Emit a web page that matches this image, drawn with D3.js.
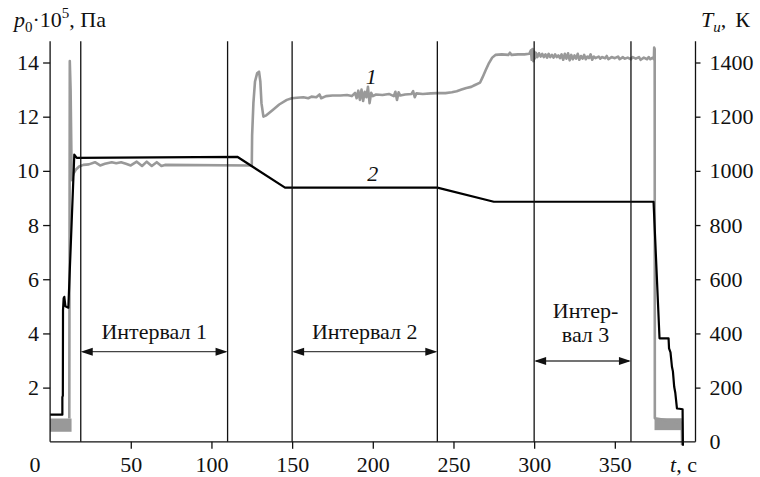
<!DOCTYPE html>
<html>
<head>
<meta charset="utf-8">
<script src="https://cdn.jsdelivr.net/npm/d3@7/dist/d3.min.js"></script>
<style>
  body { margin: 0; background: #fff; }
  svg { display: block; }
  svg text { font-family: "Liberation Serif", "Times New Roman", Times, "DejaVu Serif", serif; fill: #111; }
</style>
</head>
<body>
<svg width="760" height="477"></svg>
<script>
// data
// curve 2: pressure p0, 10^5 Pa  [t, p]
var pressure = [
  [0, 1.0], [7.6, 1.0], [7.6, 1.65], [7.9, 1.7], [8.0, 4.85], [8.4, 5.3], [8.8, 5.35],
  [9.5, 5.0], [11.3, 4.95], [15.0, 10.6], [16.5, 10.48], [116, 10.52], [145.6, 9.38],
  [240, 9.38], [275, 8.86], [374, 8.86], [377.7, 3.82], [383.3, 3.82], [383.6, 3.45],
  [384.5, 3.3], [385.4, 2.77], [386, 2.6], [386.8, 2.03], [387.5, 1.8], [388.5, 1.23],
  [390, 1.22], [392, 1.2], [392.2, -0.15]
];

// curve 1: temperature T, K  [t, T]
var temperature = [
  [11.9, 86], [12.2, 1405], [12.7, 1300], [13.4, 966], [14.5, 990], [16, 1005], [18, 1016],
  [20.6, 1022], [24, 1024], [27.8, 1032], [31, 1020], [34, 1026], [38.2, 1032], [41, 1028],
  [44, 1032], [47, 1026], [50, 1020], [53.7, 1034], [57, 1018], [59.9, 1034], [63, 1018],
  [66.1, 1032], [69, 1018], [71.2, 1022], [125, 1020],
  [125.2, 1130], [126, 1250], [127, 1330], [128.3, 1360], [129.5, 1366], [130.3, 1330],
  [131, 1250], [132.2, 1200], [134, 1205], [138, 1225], [142, 1245], [146.7, 1262],
  [149.8, 1268], [153, 1270], [157, 1272], [160, 1268], [162, 1274], [165, 1272], [167, 1282],
  [168, 1268], [171, 1276], [175, 1278], [180, 1278], [184, 1280], [187, 1276], [189, 1288],
  [190, 1268], [191, 1296], [192, 1262], [193, 1300], [194, 1258], [195, 1292], [196, 1272],
  [197, 1310], [198, 1250], [199, 1288], [200, 1276], [202, 1282], [206, 1280], [210, 1284],
  [213, 1276], [214, 1292], [215, 1262], [216, 1290], [217, 1278], [220, 1282], [224, 1284],
  [225, 1294], [226, 1272], [227, 1286], [231, 1284], [236, 1286], [240, 1287], [245, 1287],
  [249, 1290], [252, 1294], [255, 1300], [258, 1306], [261, 1310], [263, 1316], [266.5, 1326],
  [268, 1345], [270, 1372], [272, 1398], [274, 1418], [276, 1428], [280, 1430], [284, 1428],
  [285, 1436], [286, 1428], [290, 1430], [294, 1430], [297, 1432],
  [298, 1445], [298.5, 1410], [299, 1450], [299.5, 1405], [300, 1440], [300.5, 1415],
  [301, 1436], [302, 1420], [303, 1434], [304, 1422], [305, 1432], [306, 1420], [307, 1430],
  [308, 1418], [309, 1432], [310, 1420], [311, 1428], [312, 1418], [313, 1430], [314, 1420],
  [315, 1426], [316, 1416], [317, 1430], [318, 1410], [319, 1432], [320, 1414], [321, 1434],
  [322, 1408], [323, 1428], [324, 1412], [325, 1426], [326, 1414], [327, 1432], [328, 1410],
  [329, 1424], [330, 1414], [331, 1428], [332, 1412], [333, 1422], [334, 1416], [335, 1430],
  [336, 1410], [337, 1422], [338, 1416], [340, 1422], [341, 1414], [342, 1420], [344, 1416],
  [345, 1424], [346, 1412], [348, 1420], [350, 1416], [352, 1422], [353, 1412], [355, 1420],
  [356, 1414], [358, 1418], [360, 1412], [361, 1420], [363, 1414], [365, 1420], [366, 1410],
  [368, 1418], [370, 1412], [371, 1420], [372, 1412], [373.5, 1418], [374.2, 1412],
  [374.4, 1455], [374.7, 1450], [374.8, 87], [391.5, 70], [391.7, -12]
];

// noisy low-level temperature signal drawn as a band  [t, low, high]
var bandStart = [[0, 37, 86], [13.3, 37, 86]];
var bandEnd = [[374.6, 43, 87], [391.5, 43, 87]];

var markerTimes = [19, 110, 150, 240, 300, 360];
var intervals = [
  { from: 19, to: 110, lines: ["Интервал 1"] },
  { from: 150, to: 240, lines: ["Интервал 2"] },
  { from: 300, to: 360, lines: ["Интер-", "вал 3"] }
];

var xTicks = [50, 100, 150, 200, 250, 300, 350];
var leftTicks = [2, 4, 6, 8, 10, 12, 14];
var rightTicks = [0, 200, 400, 600, 800, 1000, 1200, 1400];

var serif = "'Liberation Serif', 'Times New Roman', Times, 'DejaVu Serif', serif";
var svg = d3.select("svg").attr("font-family", serif);

var x = d3.scaleLinear().domain([0, 400]).range([50.1, 695.5]);
var yL = d3.scaleLinear().domain([0, 14]).range([441.8, 62.5]);
var yR = d3.scaleLinear().domain([0, 1400]).range([441.8, 62.5]);
var yTop = yL(14.78);

var grey = "#999";

// grey bands at the start and end
var band = d3.area()
  .x(function (d) { return x(d[0]); })
  .y0(function (d) { return yR(d[1]); })
  .y1(function (d) { return yR(d[2]); });

[bandStart, bandEnd].forEach(function (b) {
  svg.append("path").attr("d", band(b)).attr("fill", grey);
});

// curve 1 (temperature, right axis)
svg.append("path")
  .datum(temperature)
  .attr("fill", "none")
  .attr("stroke", grey)
  .attr("stroke-width", 2.6)
  .attr("stroke-linejoin", "round")
  .attr("d", d3.line().x(function (d) { return x(d[0]); }).y(function (d) { return yR(d[1]); }));

// curve 2 (pressure, left axis)
svg.append("path")
  .datum(pressure)
  .attr("fill", "none")
  .attr("stroke", "#000")
  .attr("stroke-width", 2.2)
  .attr("stroke-linejoin", "round")
  .attr("d", d3.line().x(function (d) { return x(d[0]); }).y(function (d) { return yL(d[1]); }));

// vertical interval lines
svg.append("g").selectAll("line")
  .data(markerTimes)
  .enter().append("line")
    .attr("x1", function (d) { return x(d); })
    .attr("x2", function (d) { return x(d); })
    .attr("y1", yTop)
    .attr("y2", yL(0))
    .attr("stroke", "#111")
    .attr("stroke-width", 1.3);

// frame: left, bottom, right
var frame = svg.append("g").attr("stroke", "#111").attr("stroke-width", 1.3);
frame.append("line").attr("x1", x(0)).attr("x2", x(0)).attr("y1", yTop).attr("y2", yL(0));
frame.append("line").attr("x1", x(400)).attr("x2", x(400)).attr("y1", yTop).attr("y2", yL(0));
frame.append("line").attr("x1", x(0)).attr("x2", x(400)).attr("y1", yL(0)).attr("y2", yL(0));

// axes
function styleAxis(g) {
  g.attr("font-family", serif).attr("font-size", 22);
  g.select(".domain").remove();
  g.selectAll(".tick line").attr("stroke", "#111").attr("stroke-width", 1.3);
  g.selectAll(".tick text").attr("fill", "#111");
}

svg.append("g")
  .attr("transform", "translate(0," + yL(0) + ")")
  .call(d3.axisBottom(x).tickValues(xTicks).tickFormat(d3.format("d"))
    .tickSize(7).tickSizeOuter(0).tickPadding(8))
  .call(styleAxis);

svg.append("g")
  .attr("transform", "translate(" + x(0) + ",0)")
  .call(d3.axisLeft(yL).tickValues(leftTicks).tickFormat(d3.format("d"))
    .tickSize(7).tickSizeOuter(0).tickPadding(4))
  .call(styleAxis);

svg.append("g")
  .attr("transform", "translate(" + x(400) + ",0)")
  .call(d3.axisRight(yR).tickValues(rightTicks).tickFormat(d3.format("d"))
    .tickSize(5).tickSizeOuter(0).tickPadding(9))
  .call(styleAxis)
  .selectAll(".tick")
  .filter(function (d) { return d === 0; })
  .select("line").remove();

// origin "0" and axis titles
svg.append("text").attr("x", 35).attr("y", 472).attr("text-anchor", "middle")
  .attr("font-size", 22).text("0");

var tl = svg.append("text").attr("x", 670).attr("y", 472).attr("font-size", 22);
tl.append("tspan").attr("font-style", "italic").text("t");
tl.append("tspan").text(", с");

var pl = svg.append("text").attr("x", 14).attr("y", 27).attr("font-size", 22);
pl.append("tspan").attr("font-style", "italic").text("p");
pl.append("tspan").attr("dy", 5).attr("font-size", 15).text("0");
pl.append("tspan").attr("dy", -5).text("·10");
pl.append("tspan").attr("dy", -9).attr("font-size", 15).text("5");
pl.append("tspan").attr("dy", 9).text(", Па");

var tr = svg.append("text").attr("x", 701).attr("y", 27).attr("font-size", 22);
tr.append("tspan").attr("font-style", "italic").text("T");
tr.append("tspan").attr("dy", 5).attr("font-size", 15).attr("font-style", "italic").text("и");
tr.append("tspan").attr("dy", -5).text(",");
tr.append("tspan").attr("dx", 9).text("К");

// curve numbers
svg.append("text").attr("x", x(199)).attr("y", 84).attr("text-anchor", "middle")
  .attr("font-size", 22).attr("font-style", "italic").text("1");
svg.append("text").attr("x", x(200)).attr("y", 181).attr("text-anchor", "middle")
  .attr("font-size", 22).attr("font-style", "italic").text("2");

// interval arrows and labels
var ah = 12, aw = 4;
intervals.forEach(function (iv) {
  var x1 = x(iv.from), x2 = x(iv.to);
  var two = iv.lines.length > 1;
  var ay = two ? 361 : 351.7;
  var g = svg.append("g");
  g.append("line").attr("x1", x1 + 2).attr("x2", x2 - 2).attr("y1", ay).attr("y2", ay)
    .attr("stroke", "#444").attr("stroke-width", 1.3);
  g.append("path")
    .attr("d", "M" + x1 + "," + ay + "L" + (x1 + ah) + "," + (ay - aw) + "L" + (x1 + ah) + "," + (ay + aw) + "Z")
    .attr("fill", "#111");
  g.append("path")
    .attr("d", "M" + x2 + "," + ay + "L" + (x2 - ah) + "," + (ay - aw) + "L" + (x2 - ah) + "," + (ay + aw) + "Z")
    .attr("fill", "#111");
  var cx = (x1 + x2) / 2 + (two ? 3 : 0);
  var baseY = two ? 318 : 339.3;
  iv.lines.forEach(function (s, i) {
    g.append("text").attr("x", cx).attr("y", baseY + i * 23.7)
      .attr("text-anchor", "middle").attr("font-size", 22).text(s);
  });
});
</script>
</body>
</html>
